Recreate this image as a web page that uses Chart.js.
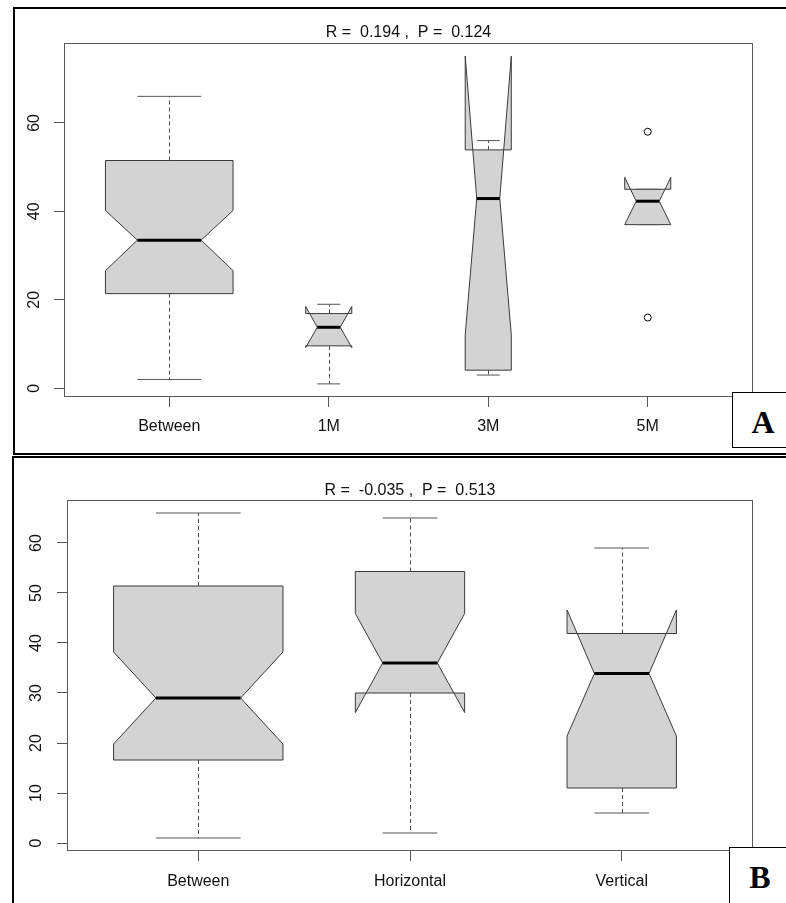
<!DOCTYPE html>
<html>
<head>
<meta charset="utf-8">
<title>Notched boxplots</title>
<script src="https://cdn.jsdelivr.net/npm/chart.js@4.4.1/dist/chart.umd.min.js"></script>
<style>
  html, body { margin: 0; padding: 0; background: #fff; overflow: hidden; }
  body { width: 786px; height: 903px; position: relative; }
  canvas { position: absolute; left: 0; }
  .frame { position: absolute; box-sizing: border-box; border: 2px solid #000; }
  .tag {
    position: absolute; box-sizing: border-box; border: 1px solid #000; background: #fff;
    font: bold 32px "Liberation Serif", "Times New Roman", serif; color: #000; text-align: center;
  }
</style>
</head>
<body>
<canvas id="chartA" width="786" height="455" style="top:0"></canvas>
<canvas id="chartB" width="786" height="448" style="top:455px"></canvas>
<div class="frame" style="left:13px;top:7px;width:800px;height:448px"></div>
<div class="frame" style="left:12px;top:456px;width:800px;height:460px"></div>
<div class="tag" style="left:732px;top:392px;width:62px;height:56px;line-height:58px">A</div>
<div class="tag" style="left:729px;top:847px;width:62px;height:70px;line-height:58px">B</div>
<script>
// ---- Panel A: distance groups ----
const groupsA = ['Between', '1M', '3M', '5M'];
const countsA = [46, 6, 6, 6];
const whiskerLoA = [2, 1, 3, 37];
const q1A = [21.4, 9.6, 4.1, 37];
const medianA = [33.5, 13.8, 42.9, 42.3];
const q3A = [51.5, 16.9, 53.9, 45];
const whiskerHiA = [66, 19, 56, 45];
const notchLoA = [26.6, 9.2, 12.1, 37];
const notchHiA = [40.2, 18.5, 75.1, 47.7];
const outlierGroupA = [4, 4];
const outlierValueA = [58, 16];
const yTicksA = [0, 20, 40, 60];
const titleA = 'R =  0.194 ,  P =  0.124';

// ---- Panel B: orientation groups ----
const groupsB = ['Between', 'Horizontal', 'Vertical'];
const countsB = [36, 15, 15];
const whiskerLoB = [1, 2, 6];
const q1B = [16.6, 30, 11];
const medianB = [29, 36, 33.9];
const q3B = [51.4, 54.3, 41.9];
const whiskerHiB = [66, 65, 59];
const notchLoB = [19.8, 26.1, 21.4];
const notchHiB = [38.2, 45.9, 46.6];
const outlierGroupB = [];
const outlierValueB = [];
const yTicksB = [0, 10, 20, 30, 40, 50, 60];
const titleB = 'R =  -0.035 ,  P =  0.513';

const FONT = '"Liberation Sans", Arial, Helvetica, sans-serif';

// Notched box drawing, R style (varwidth + notch), through the chart scales
const notchBoxPlugin = {
  id: 'notchBox',
  beforeDatasetsDraw(chart) {
    const s = chart.options.plugins.notchBox;
    const xs = chart.scales.x, ys = chart.scales.y, ctx = chart.ctx;
    const maxRoot = Math.max(...s.counts.map(Math.sqrt));
    ctx.save();
    s.median.forEach((med, i) => {
      const c = i + 1;
      const h = 0.4 * Math.sqrt(s.counts[i]) / maxRoot;
      const X = v => xs.getPixelForValue(v);
      const Y = v => ys.getPixelForValue(v);
      // box with notch
      const pts = [
        [c - h, s.q1[i]], [c - h, s.notchLo[i]], [c - h / 2, med], [c - h, s.notchHi[i]], [c - h, s.q3[i]],
        [c + h, s.q3[i]], [c + h, s.notchHi[i]], [c + h / 2, med], [c + h, s.notchLo[i]], [c + h, s.q1[i]]
      ];
      ctx.beginPath();
      pts.forEach(([a, b], k) => { const px = X(a), py = Y(b); k ? ctx.lineTo(px, py) : ctx.moveTo(px, py); });
      ctx.closePath();
      ctx.fillStyle = '#d3d3d3';
      ctx.fill();
      ctx.lineWidth = 1;
      ctx.strokeStyle = '#3a3a3a';
      ctx.stroke();
      // whiskers
      const cx = Math.round(X(c)) + 0.5;
      ctx.strokeStyle = '#4a4a4a';
      ctx.setLineDash([4, 3]);
      ctx.beginPath();
      ctx.moveTo(cx, Y(s.q3[i])); ctx.lineTo(cx, Y(s.whiskerHi[i]));
      ctx.moveTo(cx, Y(s.q1[i])); ctx.lineTo(cx, Y(s.whiskerLo[i]));
      ctx.stroke();
      ctx.setLineDash([]);
      // staples
      ctx.strokeStyle = '#555';
      ctx.beginPath();
      [s.whiskerHi[i], s.whiskerLo[i]].forEach(v => {
        const py = Y(v);
        ctx.moveTo(X(c - h / 2), py); ctx.lineTo(X(c + h / 2), py);
      });
      ctx.stroke();
      // median
      ctx.strokeStyle = '#000';
      ctx.lineWidth = 3;
      ctx.beginPath();
      ctx.moveTo(X(c - h / 2), Y(med)); ctx.lineTo(X(c + h / 2), Y(med));
      ctx.stroke();
    });
    ctx.restore();
  },
  afterDatasetsDraw(chart) {
    const a = chart.chartArea, ctx = chart.ctx;
    ctx.save();
    ctx.strokeStyle = '#5a5a5a';
    ctx.lineWidth = 1;
    ctx.strokeRect(Math.round(a.left) + 0.5, Math.round(a.top) + 0.5,
                   Math.round(a.right - a.left) - 1, Math.round(a.bottom - a.top) - 1);
    ctx.restore();
  }
};

function makePanel(id, p) {
  const allY = [].concat(p.whiskerLo, p.whiskerHi, p.notchLo, p.notchHi, p.q1, p.q3, p.outlierValue);
  const lo = Math.min(...allY), hi = Math.max(...allY);
  const n = p.groups.length;
  const yPad = 0.04 * (hi - lo), xPad = 0.04 * n;
  return new Chart(document.getElementById(id), {
    type: 'scatter',
    data: {
      datasets: [{
        data: p.outlierValue.map((v, k) => ({ x: p.outlierGroup[k], y: v })),
        pointRadius: 3.5,
        pointBackgroundColor: 'rgba(0,0,0,0)',
        pointBorderColor: '#000',
        pointBorderWidth: 1,
        showLine: false,
        clip: false
      }]
    },
    options: {
      responsive: false,
      animation: false,
      events: [],
      devicePixelRatio: 1,
      layout: { padding: { left: 0, top: 0, right: p.padRight, bottom: 0 } },
      plugins: {
        legend: { display: false },
        tooltip: { enabled: false },
        title: {
          display: true,
          text: p.title,
          fullSize: false,
          color: '#111',
          font: { family: FONT, size: 16, weight: 'normal', lineHeight: 1 },
          padding: { top: p.titleTop, bottom: p.titleBottom }
        },
        notchBox: {
          counts: p.counts, q1: p.q1, q3: p.q3, median: p.median,
          whiskerLo: p.whiskerLo, whiskerHi: p.whiskerHi,
          notchLo: p.notchLo, notchHi: p.notchHi
        }
      },
      scales: {
        x: {
          type: 'linear',
          min: 0.5 - xPad,
          max: n + 0.5 + xPad,
          afterBuildTicks: sc => { sc.ticks = p.groups.map((_, i) => ({ value: i + 1 })); },
          afterFit: sc => { sc.height = p.xHeight; },
          ticks: {
            callback: v => p.groups[v - 1],
            autoSkip: false, maxRotation: 0, minRotation: 0,
            padding: p.xLabelPad,
            color: '#111',
            font: { family: FONT, size: 16 }
          },
          grid: { display: true, drawOnChartArea: false, drawTicks: true, tickLength: 10, color: '#555', lineWidth: 1 },
          border: { display: false }
        },
        y: {
          type: 'linear',
          min: lo - yPad,
          max: hi + yPad,
          afterBuildTicks: sc => { sc.ticks = p.yTicks.map(v => ({ value: v })); },
          afterFit: sc => { sc.width = p.yWidth; },
          ticks: {
            minRotation: 90, maxRotation: 90,
            crossAlign: 'center',
            padding: p.yLabelPad,
            color: '#111',
            font: { family: FONT, size: 16 }
          },
          grid: { display: true, drawOnChartArea: false, drawTicks: true, tickLength: 10, color: '#555', lineWidth: 1 },
          border: { display: false }
        }
      }
    },
    plugins: [notchBoxPlugin]
  });
}

makePanel('chartA', {
  groups: groupsA, counts: countsA,
  whiskerLo: whiskerLoA, q1: q1A, median: medianA, q3: q3A, whiskerHi: whiskerHiA,
  notchLo: notchLoA, notchHi: notchHiA,
  outlierGroup: outlierGroupA, outlierValue: outlierValueA,
  yTicks: yTicksA, title: titleA,
  padRight: 33, titleTop: 25, titleBottom: 2, xHeight: 58, yWidth: 64, xLabelPad: 10, yLabelPad: 11
});

makePanel('chartB', {
  groups: groupsB, counts: countsB,
  whiskerLo: whiskerLoB, q1: q1B, median: medianB, q3: q3B, whiskerHi: whiskerHiB,
  notchLo: notchLoB, notchHi: notchHiB,
  outlierGroup: outlierGroupB, outlierValue: outlierValueB,
  yTicks: yTicksB, title: titleB,
  padRight: 33, titleTop: 28, titleBottom: 1, xHeight: 52, yWidth: 67, xLabelPad: 11, yLabelPad: 12
});
</script>
</body>
</html>
